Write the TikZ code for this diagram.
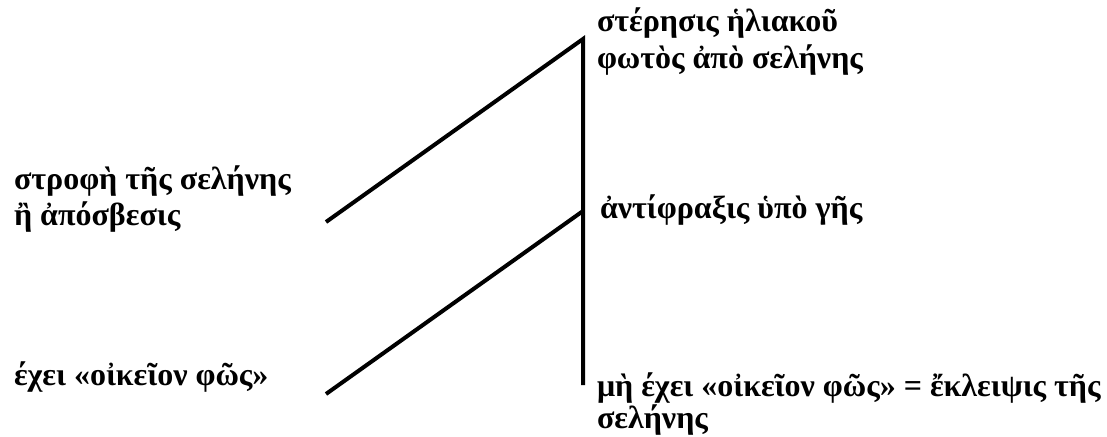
\documentclass[tikz,border=0pt]{standalone}
\usepackage{fontspec}
\setmainfont{Liberation Serif}
\usetikzlibrary{positioning}

\begin{document}
\begin{tikzpicture}[
  x=1pt, y=-1pt,
  line width=4pt,
  term/.style={anchor=base west, inner sep=0pt, align=left, font=\fontsize{32}{36}\selectfont\bfseries},
  tight/.style={font=\fontsize{32}{32}\selectfont\bfseries}
]
\useasboundingbox (0,0) rectangle (1107,436);

% Left side: the two conditions (placed by their last baseline)
\node[term] (turn) at (12,225) {στροφὴ τῆς σελήνης\\ἢ ἀπόσβεσις};
\node[term] (own) at (12,385) {έχει «οἰκεῖον φῶς»};

% Right side: the outcomes
\node[term] (loss) at (595,68) {στέρησις ἡλιακοῦ\\φωτὸς ἀπὸ σελήνης};
\node[term] (block) at (598,218) {ἀντίφραξις ὑπὸ γῆς};
\node[term, tight] (eclipse) at (595,428) {μὴ έχει «οἰκεῖον φῶς» = ἔκλειψις τῆς\\σελήνης};

% Branch points
\coordinate (top) at (583,39);
\coordinate (mid) at (583,211);
\coordinate (bot) at (583,385);
\coordinate (a) at (326,222);
\coordinate (b) at (326,394);

\draw (a) -- (top) -- (bot);
\draw (b) -- (mid);

\end{tikzpicture}
\end{document}
